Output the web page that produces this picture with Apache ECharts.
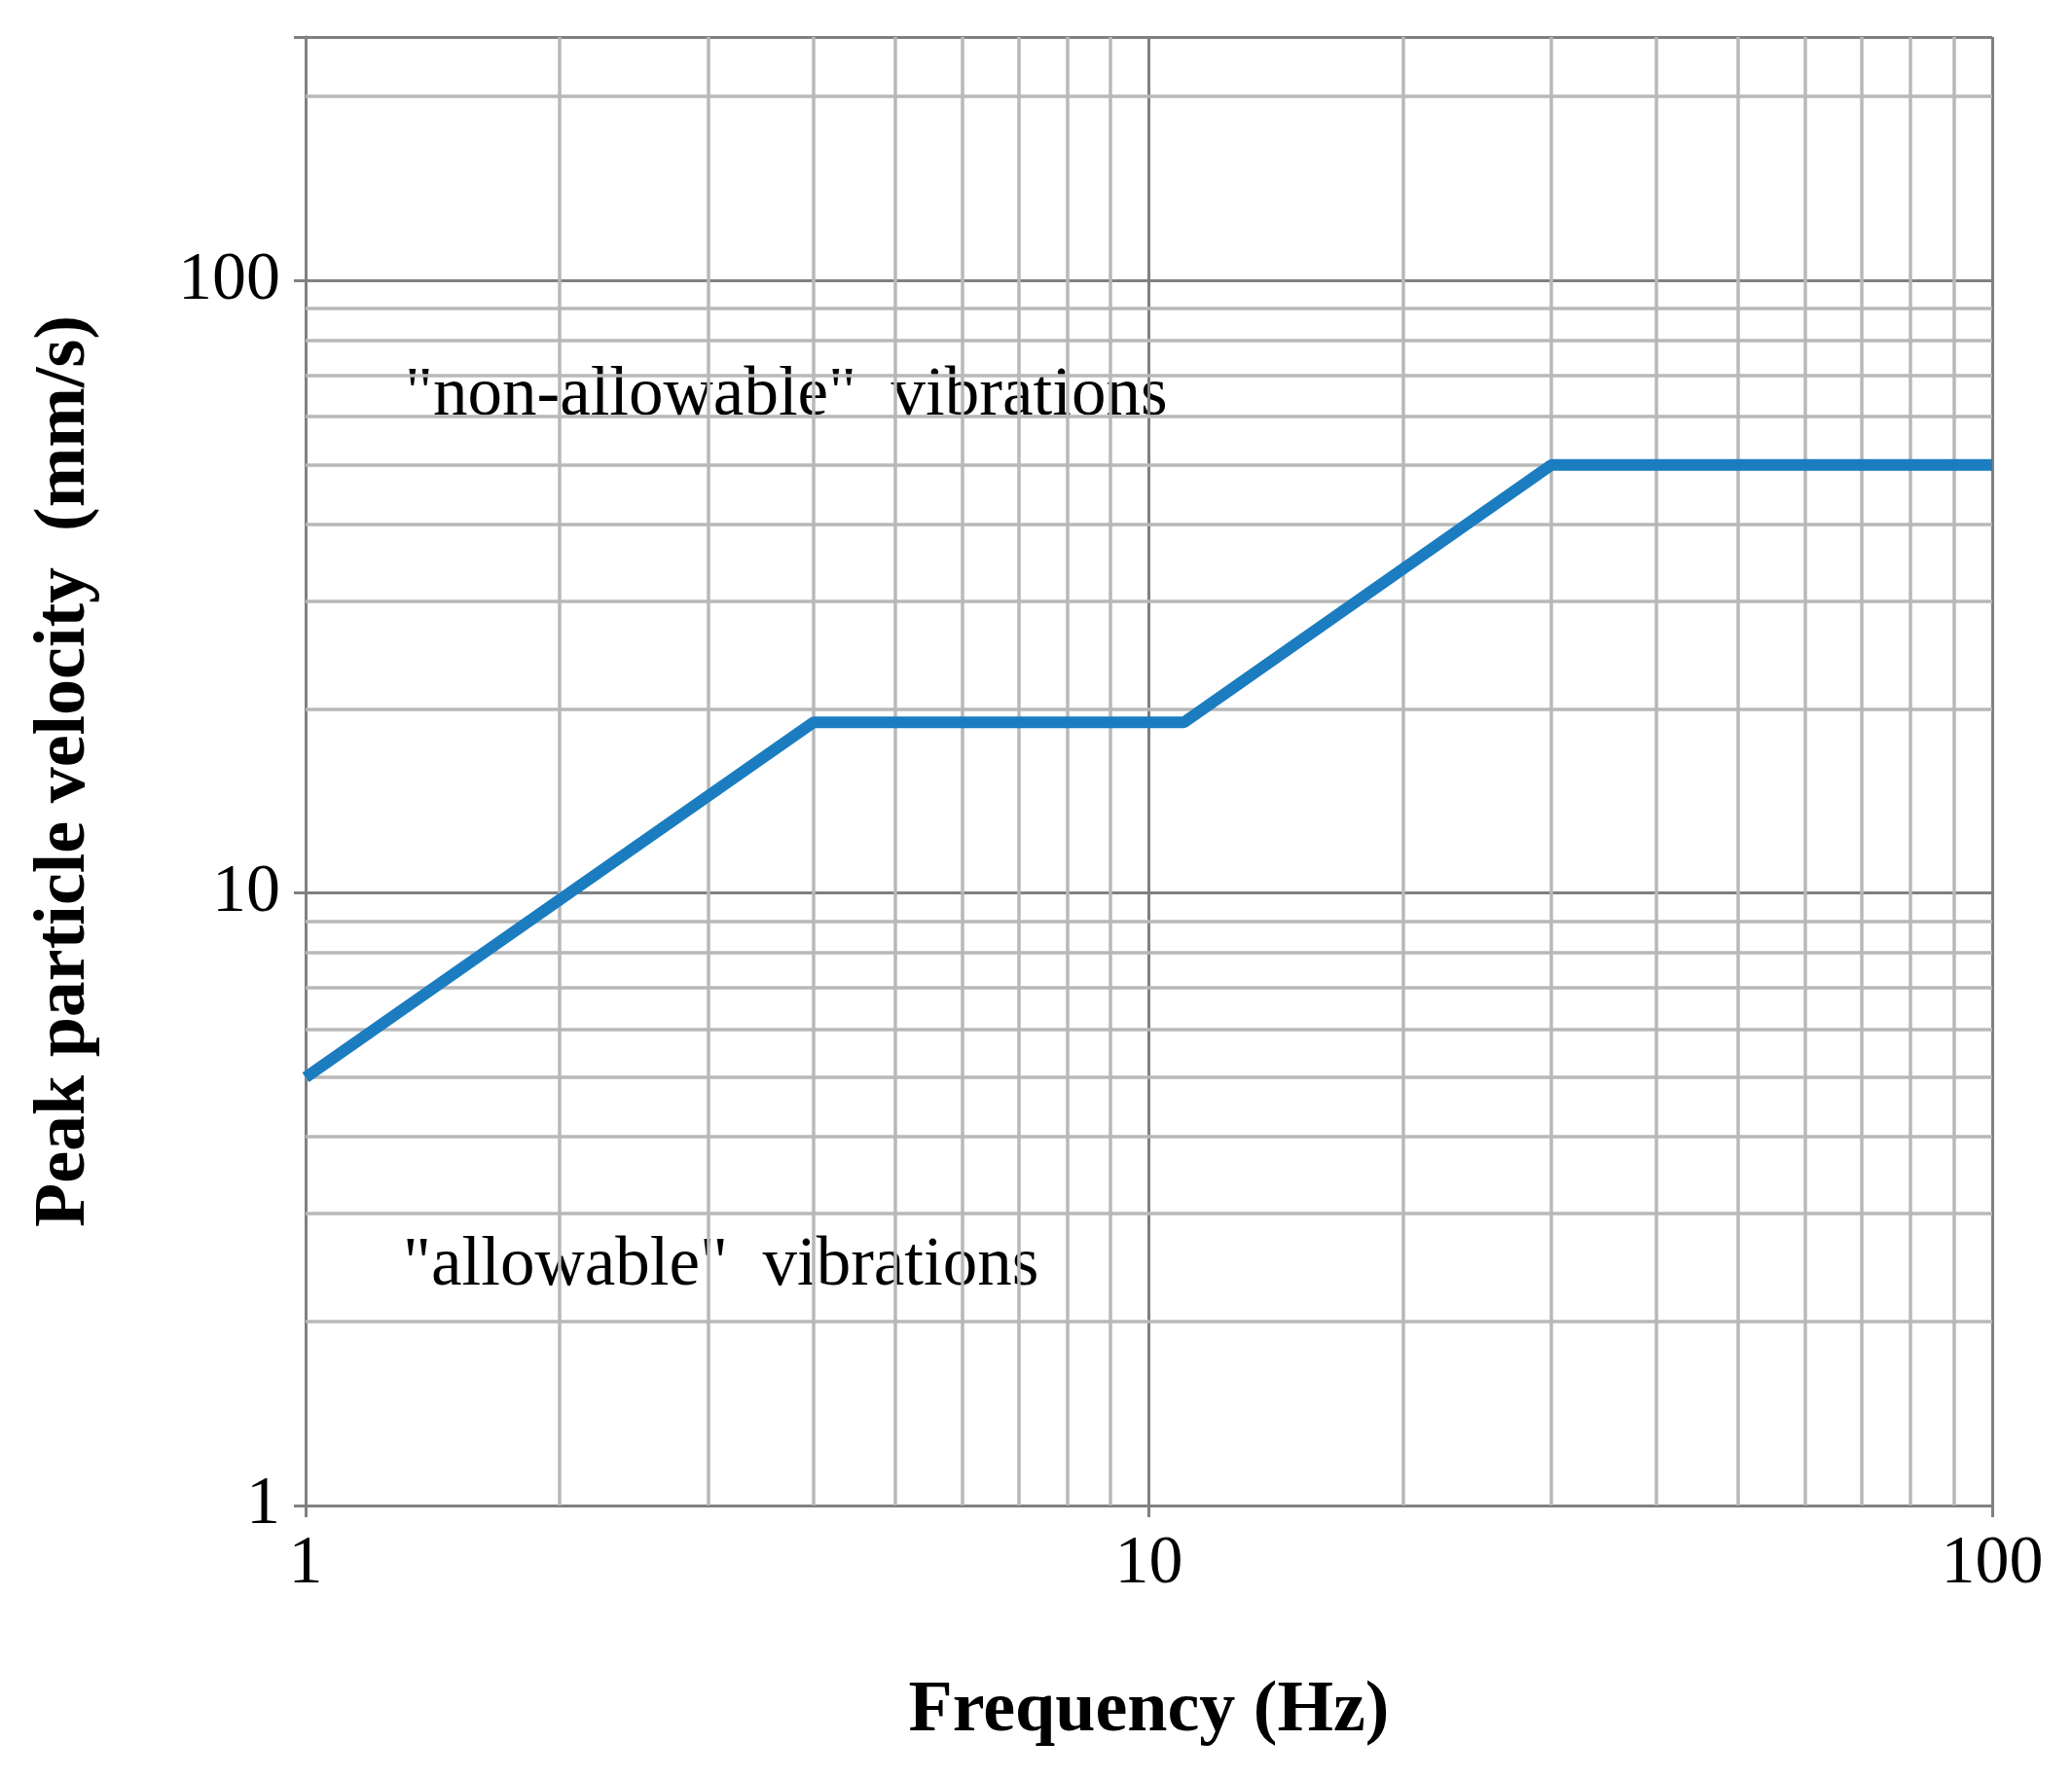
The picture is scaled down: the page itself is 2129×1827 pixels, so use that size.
<!DOCTYPE html>
<html><head><meta charset="utf-8">
<script src="https://cdn.jsdelivr.net/npm/echarts@6/dist/echarts.min.js"></script>
<style>html,body{margin:0;padding:0;background:#fff}#c{width:2129px;height:1827px}</style>
</head><body><div id="c"></div>
<script>
const freq = [1, 4, 11, 30, 100];
const ppv = [5, 19, 19, 50, 50];
const xMinorGrid = [2,3,4,5,6,7,8,9,20,30,40,50,60,70,80,90];
const yMinorGrid = [2,3,4,5,6,7,8,9,20,30,40,50,60,70,80,90,200];
const xTicks = [1, 10, 100];
const yTicks = [1, 10, 100];
const font = 'Liberation Serif';
const chart = echarts.init(document.getElementById('c'));
const minorStyle = {color:'#b8b8b8', width:3.5, type:'solid'};
chart.setOption({
  animation:false,
  grid:{left:314, right:82, top:38, bottom:280},
  xAxis:{type:'log', min:1, max:100, logBase:10,
    name:'Frequency (Hz)', nameLocation:'middle', nameGap:175,
    nameTextStyle:{fontFamily:font, fontWeight:'bold', fontSize:74, color:'#000'},
    axisLine:{lineStyle:{color:'#808080', width:3}},
    axisTick:{show:true, length:12, inside:false, lineStyle:{color:'#808080', width:3}},
    axisLabel:{fontFamily:font, fontSize:70, color:'#000', margin:26,
      formatter:v=>xTicks.includes(Math.round(v))?String(Math.round(v)):''},
    splitLine:{show:true, lineStyle:{color:'#808080', width:3}}},
  yAxis:{type:'log', min:1, max:250, logBase:10, interval:1,
    name:'Peak particle velocity  (mm/s)', nameLocation:'middle', nameGap:210,
    nameTextStyle:{fontFamily:font, fontWeight:'bold', fontSize:74, color:'#000'},
    axisLine:{show:true, lineStyle:{color:'#808080', width:3}},
    axisTick:{show:true, length:12, lineStyle:{color:'#808080', width:3}},
    axisLabel:{fontFamily:font, fontSize:70, color:'#000', margin:26,
      formatter:v=>yTicks.includes(Math.round(v))?String(Math.round(v)):''},
    splitLine:{show:true, lineStyle:{color:'#808080', width:3}}},
  series:[
    {type:'line', data:[], silent:true,
      markLine:{silent:true, symbol:'none', label:{show:false}, lineStyle:minorStyle,
        data:[...xMinorGrid.map(v=>({xAxis:v})), ...yMinorGrid.map(v=>({yAxis:v}))]}},
    {type:'line', data:freq.map((f,i)=>[f,ppv[i]]), symbol:'none',
      lineStyle:{color:'#1b7dc0', width:12}, z:5}
  ],
  graphic:[
    {type:'text', left:416, top:372, style:{text:'"non-allowable"  vibrations', font:'71px "Liberation Serif"', fill:'#000'}},
    {type:'text', left:414, top:1266, style:{text:'"allowable"  vibrations', font:'71px "Liberation Serif"', fill:'#000'}}
  ]
});
</script></body></html>
